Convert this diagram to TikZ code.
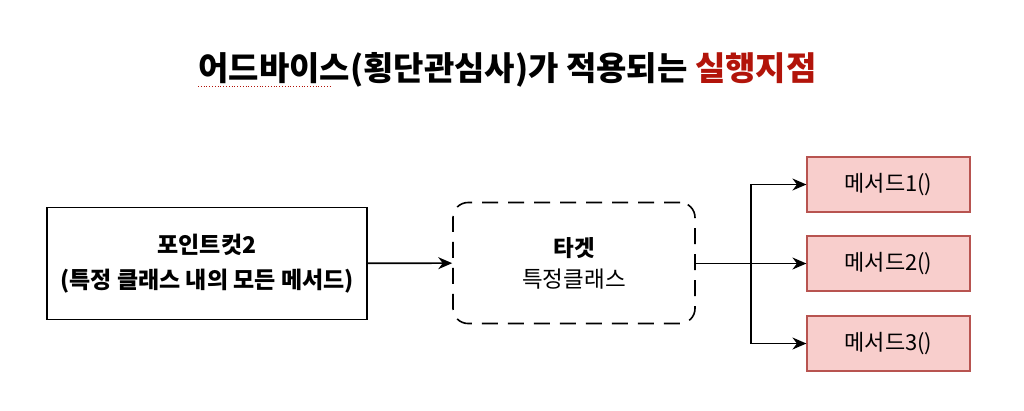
\documentclass[tikz,border=0pt]{standalone}
\usepackage{fontspec}
\setmainfont{Noto Sans CJK KR}
\usetikzlibrary{arrows.meta,positioning}
\definecolor{pointred}{RGB}{178,20,10}
\definecolor{mfill}{RGB}{248,206,204}
\definecolor{mline}{RGB}{184,84,80}

\begin{document}
\begin{tikzpicture}[x=1pt,y=-1pt,box/.style={draw,line width=1.6pt,align=center,minimum width=320pt,minimum height=112pt,font=\fontsize{23}{35}\selectfont\bfseries},tbox/.style={draw,dashed,dash pattern=on 16pt off 10pt,line width=1.6pt,rounded corners=15pt,align=center,minimum width=242pt,minimum height=121pt,font=\fontsize{22.5}{31}\selectfont},mbox/.style={draw=mline,fill=mfill,line width=1.2pt,minimum width=163pt,minimum height=55pt,font=\fontsize{22}{26}\selectfont},arr/.style={line width=1.6pt,-{Stealth[length=14pt,width=12pt]}},ttl/.style={font=\fontsize{33}{40}\selectfont\bfseries}]
\useasboundingbox (0,0) rectangle (1024,410);
\node[ttl](title) at (507.5,70){어드바이스(횡단관심사)가 적용되는 \textcolor{pointred}{실행지점}};
\draw[pointred,dotted,line width=0.8pt] (198,86)--(331,86);
\node[box](pc) at (207,263.5){포인트컷2\\(특정 클래스 내의 모든 메서드)};
\node[tbox](tgt) at (574,263){\textbf{타겟}\\특정클래스};
\node[mbox](m1) at (888.5,184.5){메서드1()};
\node[mbox](m2) at (888.5,263.5){메서드2()};
\node[mbox](m3) at (888.5,343.5){메서드3()};
\coordinate (fork) at (751,263.5);
\draw[arr](pc)--(tgt);
\draw[line width=1.6pt](tgt.east|-fork)--(fork);
\draw[arr](fork)|-(m1);
\draw[arr](fork)--(m2);
\draw[arr](fork)|-(m3);
\end{tikzpicture}
\end{document}
